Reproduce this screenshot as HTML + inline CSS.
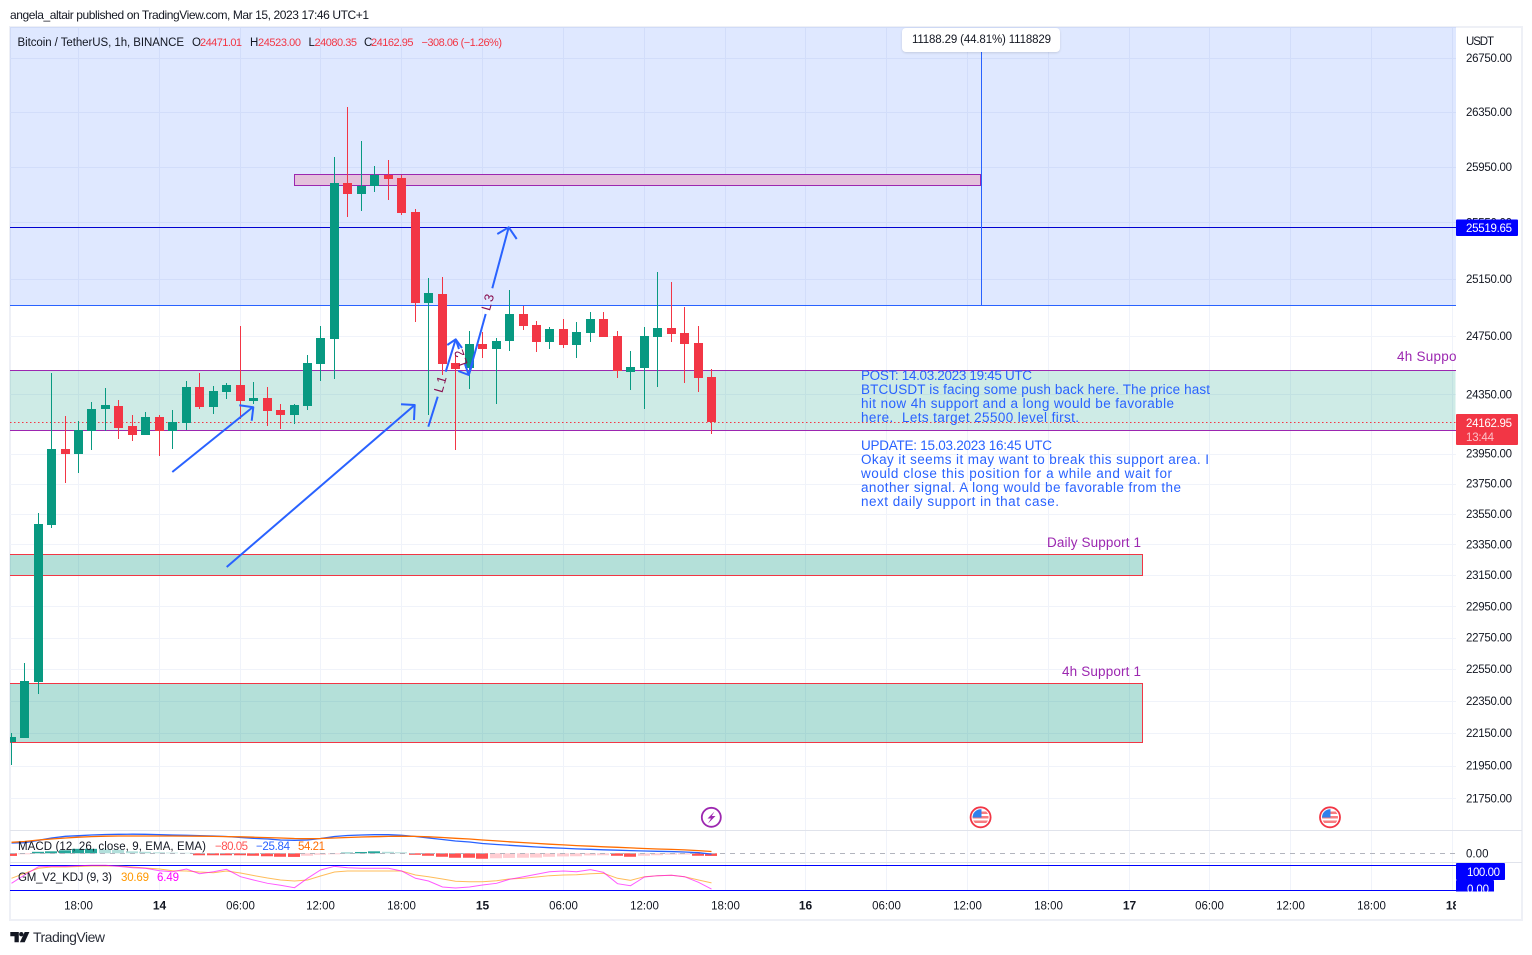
<!DOCTYPE html>
<html lang="en">
<head>
<meta charset="utf-8">
<title>BTCUSDT 1h chart</title>
<style>
html,body{margin:0;padding:0;background:#fff;width:1532px;height:955px;overflow:hidden}
svg{display:block;font-size:11.5px}
text{font-family:"Liberation Sans",sans-serif;fill:#131722}
</style>
</head>
<body>
<svg id="chart" xmlns="http://www.w3.org/2000/svg" width="1532" height="955" viewBox="0 0 1532 955">
  <defs>
    <clipPath id="pane-clip"><rect x="10" y="27" width="1446" height="803"/></clipPath>
    <clipPath id="macd-clip"><rect x="10" y="831" width="1446" height="31"/></clipPath>
    <clipPath id="kdj-clip"><rect x="10" y="863" width="1446" height="29"/></clipPath>
    <clipPath id="time-clip"><rect x="10" y="892" width="1446" height="28"/></clipPath>
    <clipPath id="zero-tag-clip"><rect x="1456" y="880" width="40" height="11.5"/></clipPath>
    <clipPath id="flag-clip-a"><circle cx="980.6" cy="817.3" r="8"/></clipPath>
    <clipPath id="flag-clip-b"><circle cx="1330" cy="817.3" r="8"/></clipPath>
  </defs>

  <text x="10" y="19" font-size="12" textLength="359">angela_altair published on TradingView.com, Mar 15, 2023 17:46 UTC+1</text>

  <!-- frame -->
  <rect x="10" y="27" width="1512" height="893" fill="none" stroke="#eef0f6" stroke-width="2"/>

  <g id="grid-layer"></g>

  <g clip-path="url(#pane-clip)">
    <rect id="target-box" x="10" y="27" width="1446" height="278" fill="rgba(41,98,255,0.15)"/>
    <g id="zone-layer"></g>
    <g id="level-layer"></g>
    <g id="candle-layer"></g>

    <!-- drawn arrows -->
    <g fill="none" stroke="#2962ff" stroke-width="2" stroke-linejoin="round">
      <polyline points="172.3,472 253,407"/>
      <polyline points="239.3,405.3 253.3,407.3 251.7,420.7"/>
      <polyline points="226.7,567 414.7,405"/>
      <polyline points="401,404.3 414.7,405 414,420"/>
      <polyline points="428.3,426.7 437.7,396.7"/>
      <polyline points="445.7,371.7 455.7,339.3"/>
      <polyline points="447.3,345 455.7,339.3 462,348"/>
      <polyline points="455.7,339.3 459,349"/>
      <polyline points="465,364 468.7,375"/>
      <polyline points="458.3,371 468.7,375 473,362"/>
      <polyline points="468.7,375 485.7,314"/>
      <polyline points="492.3,288.3 508.7,227.3"/>
      <polyline points="497.3,234 508.7,227.3 516.7,239"/>
    </g>
    <text transform="translate(441.5,383.5) rotate(-74)" text-anchor="middle" dominant-baseline="middle" font-size="13" letter-spacing="2" style="fill:#880e4f">L1</text>
    <text transform="translate(461.5,356.5) rotate(-110)" text-anchor="middle" dominant-baseline="middle" font-size="13" letter-spacing="2" style="fill:#880e4f">L2</text>
    <text transform="translate(489,301.5) rotate(-74)" text-anchor="middle" dominant-baseline="middle" font-size="13" letter-spacing="2" style="fill:#880e4f">L3</text>

    <!-- measurement line -->
    <line x1="981.5" y1="50" x2="981.5" y2="305" stroke="#2962ff" stroke-width="1"/>

    <!-- notes -->
    <g>
      <text x="861" y="380" font-size="13.5" textLength="171" style="fill:#2962ff">POST: 14.03.2023 19:45 UTC</text>
      <text x="861" y="394" font-size="13.5" textLength="349" style="fill:#2962ff">BTCUSDT is facing some push back here. The price hast</text>
      <text x="861" y="408" font-size="13.5" textLength="313" style="fill:#2962ff">hit now 4h support and a long would be favorable</text>
      <text x="861" y="422" font-size="13.5" textLength="218" xml:space="preserve" style="fill:#2962ff">here.  Lets target 25500 level first.</text>
      <text x="861" y="450" font-size="13.5" textLength="191" style="fill:#2962ff">UPDATE: 15.03.2023 16:45 UTC</text>
      <text x="861" y="464" font-size="13.5" textLength="348" style="fill:#2962ff">Okay it seems it may want to break this support area. I</text>
      <text x="861" y="478" font-size="13.5" textLength="311" style="fill:#2962ff">would close this position for a while and wait for</text>
      <text x="861" y="492" font-size="13.5" textLength="320" style="fill:#2962ff">another signal. A long would be favorable from the</text>
      <text x="861" y="506" font-size="13.5" textLength="198" style="fill:#2962ff">next daily support in that case.</text>
    </g>

    <text x="1397" y="361" font-size="13.5" textLength="80" style="fill:#9c27b0">4h Support 2</text>
    <text x="1047" y="547" font-size="13.5" textLength="94" style="fill:#9c27b0">Daily Support 1</text>
    <text x="1062" y="676" font-size="13.5" textLength="79" style="fill:#9c27b0">4h Support 1</text>

    <!-- event icons -->
    <g>
      <circle cx="711.3" cy="817.3" r="9.5" fill="#fff" stroke="#9c27b0" stroke-width="1.8"/>
      <polygon points="714.5,811.5 707.5,818.5 711,818.5 708,823.5 715.5,816 711.8,816" fill="#9c27b0"/>
    </g>
    <g>
      <circle cx="980.6" cy="817.3" r="10" fill="#fff" stroke="#f23645" stroke-width="1.8"/>
      <g clip-path="url(#flag-clip-a)">
        <rect x="972" y="809" width="18" height="17" fill="#fff"/>
        <rect x="972" y="816" width="18" height="2.5" fill="#f77c80"/>
        <rect x="972" y="820.5" width="18" height="2.5" fill="#f77c80"/>
        <rect x="980" y="811.5" width="10" height="2.5" fill="#f77c80"/>
        <rect x="972" y="809" width="9.5" height="8.5" fill="#2f80ed"/>
      </g>
    </g>
    <g>
      <circle cx="1330" cy="817.3" r="10" fill="#fff" stroke="#f23645" stroke-width="1.8"/>
      <g clip-path="url(#flag-clip-b)">
        <rect x="1321" y="809" width="18" height="17" fill="#fff"/>
        <rect x="1321" y="816" width="18" height="2.5" fill="#f77c80"/>
        <rect x="1321" y="820.5" width="18" height="2.5" fill="#f77c80"/>
        <rect x="1330" y="811.5" width="10" height="2.5" fill="#f77c80"/>
        <rect x="1321" y="809" width="9.5" height="8.5" fill="#2f80ed"/>
      </g>
    </g>
  </g>

  <!-- price legend -->
  <g>
    <text x="17.5" y="46" font-size="11.5" textLength="166.5">Bitcoin / TetherUS, 1h, BINANCE</text>
    <text x="192" y="46" font-size="11.5">O</text>
    <text x="200" y="46" font-size="11" textLength="42" style="fill:#f23645">24471.01</text>
    <text x="250" y="46" font-size="11.5">H</text>
    <text x="258" y="46" font-size="11" textLength="43" style="fill:#f23645">24523.00</text>
    <text x="308.5" y="46" font-size="11.5">L</text>
    <text x="314.5" y="46" font-size="11" textLength="42.5" style="fill:#f23645">24080.35</text>
    <text x="364" y="46" font-size="11.5">C</text>
    <text x="371" y="46" font-size="11" textLength="42.5" style="fill:#f23645">24162.95</text>
    <text x="421.5" y="46" font-size="11" textLength="80.5" style="fill:#f23645">−308.06 (−1.26%)</text>
  </g>

  <!-- measure tooltip -->
  <g>
    <rect x="902" y="28" width="158" height="24" rx="4" fill="#fff" style="filter:drop-shadow(0 1px 1px rgba(0,0,0,.12))"/>
    <text x="912" y="43" font-size="11.5" textLength="139">11188.29 (44.81%) 1118829</text>
  </g>

  <!-- separators -->
  <line x1="10" y1="830.5" x2="1522" y2="830.5" stroke="#e0e3eb"/>
  <line x1="10" y1="862.5" x2="1522" y2="862.5" stroke="#e0e3eb"/>

  <g id="macd-layer" clip-path="url(#macd-clip)"></g>
  <g id="kdj-layer" clip-path="url(#kdj-clip)"></g>

  <g>
    <text x="18" y="850" font-size="11.5" textLength="188">MACD (12, 26, close, 9, EMA, EMA)</text>
    <text x="215" y="850" textLength="33" style="fill:#ff5252">−80.05</text>
    <text x="256" y="850" textLength="34" style="fill:#2962ff">−25.84</text>
    <text x="298" y="850" textLength="27" style="fill:#ff6d00">54.21</text>
  </g>
  <g>
    <text x="18" y="881" font-size="11.5" textLength="94">GM_V2_KDJ (9, 3)</text>
    <text x="121" y="881" textLength="28" style="fill:#ff9800">30.69</text>
    <text x="157" y="881" textLength="22" style="fill:#ff00ff">6.49</text>
  </g>

  <g id="price-axis"></g>
  <g id="time-axis" clip-path="url(#time-clip)"></g>

  <text x="1466" y="45" textLength="28">USDT</text>

  <g>
    <rect x="1456" y="219.5" width="62" height="16.5" rx="1" fill="#0000ff"/>
    <text x="1466" y="232" textLength="46" style="fill:#fff">25519.65</text>
  </g>
  <g>
    <rect x="1456" y="414" width="62" height="31" rx="1" fill="#f23645"/>
    <text x="1466" y="427" textLength="46" style="fill:#fff">24162.95</text>
    <text x="1466" y="441" textLength="28" style="fill:#fbc2c8">13:44</text>
  </g>
  <text x="1466" y="857.5" textLength="22.5">0.00</text>
  <g>
    <rect x="1456" y="863" width="49" height="17" rx="1" fill="#0000ff"/>
    <text x="1467" y="876" textLength="33" style="fill:#fff">100.00</text>
  </g>
  <g clip-path="url(#zero-tag-clip)">
    <rect x="1456" y="880" width="38" height="17" rx="1" fill="#0000ff"/>
    <text x="1467" y="893" textLength="22" style="fill:#fff">0.00</text>
  </g>

  <!-- footer logo -->
  <g>
    <path d="M10.3 932H18.8V942.3H14.5V936.3H10.3Z" fill="#131722"/>
    <circle cx="21.3" cy="934.2" r="2.2" fill="#131722"/>
    <path d="M24.7 932H29.4L24.7 942.3H19.9Z" fill="#131722"/>
    <text x="33" y="942" font-size="14" textLength="72" style="fill:#2a2e39">TradingView</text>
  </g>
</svg>

<script>
// ---- Candles (hourly, starting 13 Mar 13:00) ----
const opens  = [22095,22119,22469,23476,23980,23946,24102,24250,24270,24135,24075,24196,24102,24156,24400,24264,24365,24413,24304,24325,24243,24210,24270,24557,24729,25832,25752,25810,25890,25868,25623,24979,25042,24564,24530,24694,24660,24715,24903,24826,24708,24799,24687,24771,24868,24750,24502,24530,24743,24806,24771,24701,24471.01];
const highs  = [22150,22588,23555,24496,24203,24169,24297,24393,24311,24210,24230,24210,24243,24441,24496,24407,24427,24820,24434,24400,24284,24284,24619,24820,26020,26387,26137,25955,25999,25890,25645,25155,25162,24619,24785,24778,24736,25070,24958,24854,24813,24868,24847,24917,24917,24785,24646,24813,25197,25127,24951,24820,24523];
const lows   = [21953,22119,22393,23457,23754,23820,23973,24102,24048,24034,24075,23933,23980,24108,24250,24216,24318,24183,24284,24135,24115,24149,24243,24441,24454,25588,25630,25767,25709,25602,24847,24210,24482,23973,24386,24599,24284,24646,24792,24639,24660,24667,24599,24708,24743,24461,24379,24250,24400,24708,24427,24365,24080.35];
const closes = [22126,22475,23483,23980,23946,24108,24250,24277,24122,24075,24196,24102,24162,24400,24264,24372,24413,24304,24325,24237,24210,24277,24564,24736,25832,25752,25810,25890,25861,25616,24979,25049,24557,24523,24694,24660,24715,24903,24820,24708,24799,24687,24778,24868,24743,24509,24537,24750,24806,24764,24694,24461,24162.95];

// ---- Price axis ----
const priceTicks = [26750,26350,25950,25550,25150,24750,24350,23950,23750,23550,23350,23150,22950,22750,22550,22350,22150,21950,21750];
const lastPrice = 24162.95;
const targetPrice = 25519.65;
const targetBoxBottomPrice = 24968;

// ---- Zones (top price, bottom price) ----
const zoneTops    = [25900,24516,23289,22465];
const zoneBottoms = [25821,24108,23153,22097];

// ---- Time axis ----
const timeLabels = ['18:00','14','06:00','12:00','18:00','15','06:00','12:00','18:00','16','06:00','12:00','18:00','17','06:00','12:00','18:00','18'];
const firstTickBar = 5;
const barsPerTick = 6;

// ---- MACD ----
const macdLine = [312,321,394,464,515,533,554,570,576,579,576,567,554,545,536,524,509,479,454,433,403,394,403,448,509,539,554,564,564,548,509,464,418,373,342,297,267,242,215,191,170,152,133,121,106,94,82,70,61,52,39,18,-25.84];
const macdSignal = [333,358,403,433,464,488,506,518,524,524,524,524,524,521,518,512,506,500,488,476,464,448,442,448,464,479,494,503,512,518,512,500,479,454,433,403,376,348,324,300,276,255,233,215,197,182,164,145,130,118,103,82,54.21];
const macdHist = [-80,-30,45,60,90,135,135,120,105,60,45,30,20,15,-60,-60,-60,-60,-75,-90,-105,-110,-75,-45,-30,20,40,60,45,30,-45,-75,-105,-135,-135,-165,-150,-140,-135,-130,-105,-95,-90,-65,-60,-75,-105,-75,-60,-40,-36,-75,-80.05];

// ---- KDJ ----
const kdjK = [29.1,61.8,94.5,96,96,98.4,100,100,96,90.6,88.2,78.7,74.8,85.4,66.9,74.8,84.3,55.1,42.1,29.1,21.3,11.8,48.8,81.5,96,90.6,88.2,88.2,88.2,77.6,48.8,38.2,14.6,10.6,14.6,22.4,29.1,44.9,55.1,64.6,74.8,77.6,74.8,82.7,72.4,27.6,19.7,53.9,59.1,60.6,55.1,33.1,6.49];
const kdjD = [48.8,68.5,88.2,93.3,93.3,95.3,97.2,97.2,97.2,93.3,89.4,85.4,78.7,77.6,73.6,70.9,77.6,69.7,59.8,50,42.1,38.2,42.1,57.9,73.6,77.6,77.6,77.6,77.6,77.6,61.8,55.1,46.1,37,35.4,35.4,39.4,46.1,48.8,53.9,59.1,61.8,63,66.9,68.5,48.8,40.9,55.1,59.1,60.6,55.1,42.1,30.69];

// ---- Axis functions ----
const NS = 'http://www.w3.org/2000/svg';
function barX(i){ return Math.floor(11.15 + 13.47 * i); }
function priceY(p){ return 58.2 + 3577 * Math.log(26750 / p); }
function macdY(v){ return 853.3 - v * 0.033; }
function kdjY(v){ return 890.7 - v * 0.254; }
function mk(parent, tag, attrs){
  const el = document.createElementNS(NS, tag);
  for (const k in attrs) el.setAttribute(k, attrs[k]);
  parent.appendChild(el);
  return el;
}
const gridLayer = document.getElementById('grid-layer');
const zoneLayer = document.getElementById('zone-layer');
const levelLayer = document.getElementById('level-layer');
const candleLayer = document.getElementById('candle-layer');
const macdLayer = document.getElementById('macd-layer');
const kdjLayer = document.getElementById('kdj-layer');
const priceAxis = document.getElementById('price-axis');
const timeAxis = document.getElementById('time-axis');

// grid & price axis labels
priceTicks.forEach(function(p){
  const y = Math.round(priceY(p)) + 0.5;
  const line = mk(gridLayer, 'line', {x1:10, x2:1456, y1:y, y2:y, stroke:'#f0f3fa'});
  
  
  const label = mk(priceAxis, 'text', {x:1466, y:priceY(p) + 4, textLength:46});
  
  
  label.textContent = p.toFixed(2);
});

// vertical grid & time labels
timeLabels.forEach(function(t, i){
  const cx = barX(firstTickBar + i * barsPerTick);
  const line = mk(gridLayer, 'line', {x1:cx + 0.5, x2:cx + 0.5, y1:28, y2:891, stroke:'#f0f3fa'});
  
  
  const isDay = t.indexOf(':') < 0;
  const label = mk(timeAxis, 'text', {x:cx + 0.5, y:909.5, 'text-anchor':'middle', 'font-size':isDay ? 12 : 11.5, 'font-weight':isDay ? 'bold' : 'normal'});
  
  
  label.textContent = t;
});

// target box bottom follows price scale
const targetBox = document.getElementById('target-box');
const boxBottomY = Math.round(priceY(targetBoxBottomPrice));
targetBox.setAttribute('height', boxBottomY - 27);
const boxEdge = mk(zoneLayer, 'line', {x1:10, x2:1456, y1:boxBottomY + 0.5, y2:boxBottomY + 0.5, stroke:'#2962ff'});



// zones
const zoneLefts = [294, -5, -5, -5];
const zoneRights = [981, 1456, 1143, 1143];
const zoneFills = ['#e4c1dc', 'rgba(8,153,129,0.2)', 'rgba(8,153,129,0.3)', 'rgba(8,153,129,0.3)'];
const zoneEdges = ['#9c27b0', '#9c27b0', '#f23645', '#f23645'];
zoneTops.forEach(function(top, i){
  const y1 = Math.round(priceY(top)) + 0.5;
  const y2 = Math.round(priceY(zoneBottoms[i])) + 0.5;
  const r = mk(zoneLayer, 'rect', {x:zoneLefts[i] + 0.5, y:y1, width:zoneRights[i] - zoneLefts[i] - 1, height:y2 - y1, fill:zoneFills[i], stroke:'none'});
  
  
  const isOpen = i === 1;
  if (!isOpen) { r.setAttribute('stroke', zoneEdges[i]); }
  if (isOpen) {
    const a = mk(zoneLayer, 'line', {x1:10, x2:1456, y1:y1, y2:y1, stroke:zoneEdges[i]});
    
    
    const b = mk(zoneLayer, 'line', {x1:10, x2:1456, y1:y2, y2:y2, stroke:zoneEdges[i]});
    
    
  }
});

// horizontal levels
const targetY = Math.round(priceY(targetPrice)) + 0.5;
const targetLine = mk(levelLayer, 'line', {x1:10, x2:1456, y1:targetY, y2:targetY, stroke:'#0000d0'});


const lastY = Math.round(priceY(lastPrice)) + 0.5;
const lastLine = mk(levelLayer, 'line', {x1:10, x2:1456, y1:lastY, y2:lastY, stroke:'#f23645', 'stroke-dasharray':'1.5 2.5'});



// candles
opens.forEach(function(o, i){
  const c = closes[i];
  const up = c >= o;
  const color = up ? '#089981' : '#f23645';
  const cx = barX(i);
  const yHigh = Math.round(priceY(highs[i]));
  const yLow = Math.round(priceY(lows[i]));
  const yTop = Math.round(priceY(Math.max(o, c)));
  const yBot = Math.round(priceY(Math.min(o, c)));
  const wick = mk(candleLayer, 'rect', {x:cx, y:yHigh, width:1, height:Math.max(1, yLow - yHigh), fill:color});
  
  
  const body = mk(candleLayer, 'rect', {x:cx - 4, y:yTop, width:9, height:Math.max(1, yBot - yTop), fill:color});
  
  
});

// MACD histogram
macdHist.forEach(function(v, i){
  const prev = i > 0 ? macdHist[i - 1] : v;
  let color;
  if (v >= 0) color = v >= prev ? '#26a69a' : '#b2dfdb';
  else color = v <= prev ? '#ff5252' : '#ffcdd2';
  const cx = barX(i);
  const y0 = macdY(0);
  const yv = macdY(v);
  const bar = mk(macdLayer, 'rect', {x:cx - 6, y:Math.min(y0, yv), width:12, height:Math.abs(yv - y0), fill:color});
  
  
});
const zeroLine = mk(macdLayer, 'line', {x1:10, x2:1456, y1:853.5, y2:853.5, stroke:'#b2b5be', 'stroke-dasharray':'5 5'});



function pointsOf(values, axis){
  return values.map(function(v, i){ return (barX(i) + 0.5) + ',' + axis(v).toFixed(2); }).join(' ');
}
const macdPoly = mk(macdLayer, 'polyline', {points:pointsOf(macdLine, macdY), fill:'none', stroke:'#2962ff', 'stroke-width':1.3});


const signalPoly = mk(macdLayer, 'polyline', {points:pointsOf(macdSignal, macdY), fill:'none', stroke:'#ff6d00', 'stroke-width':1.3});



// KDJ
const kdjTop = mk(kdjLayer, 'line', {x1:10, x2:1456, y1:865.5, y2:865.5, stroke:'#0000ff'});


const kdjBottom = mk(kdjLayer, 'line', {x1:10, x2:1456, y1:890.5, y2:890.5, stroke:'#0000ff'});


const dPoly = mk(kdjLayer, 'polyline', {points:pointsOf(kdjD, kdjY), fill:'none', stroke:'#ff9800', 'stroke-opacity':0.65, 'stroke-width':1});


const kPoly = mk(kdjLayer, 'polyline', {points:pointsOf(kdjK, kdjY), fill:'none', stroke:'#ff00ff', 'stroke-opacity':0.65, 'stroke-width':1});


</script>
</body>
</html>
